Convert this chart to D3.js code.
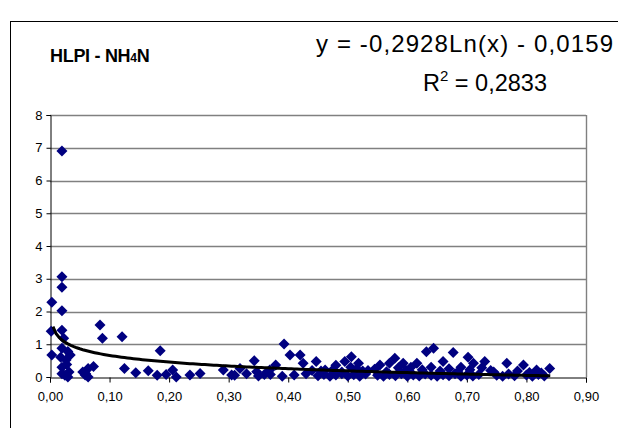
<!DOCTYPE html>
<html><head><meta charset="utf-8">
<script src="https://cdn.jsdelivr.net/npm/d3@7"></script>
<style>body{margin:0;background:#fff}svg{display:block}</style>
</head><body><svg id="c" width="618" height="428"></svg>
<script>
const titleMain = "HLPI - NH";
const titleSub = "4";
const titleEnd = "N";
const eqText = "y = -0,2928Ln(x) - 0,0159";
const r2Label = "R";
const r2Value = " = 0,2833";
const trendA = -0.2928, trendB = -0.0159;
const xTicks = [0,0.1,0.2,0.3,0.4,0.5,0.6,0.7,0.8,0.9];
const yTicks = [0,1,2,3,4,5,6,7,8];
const xVals = [0.003,0.002,0.003,0.020,0.020,0.020,0.020,0.020,0.023,0.020,0.034,0.027,0.020,0.020,0.030,0.025,0.032,0.028,0.030,0.018,0.059,0.064,0.064,0.073,0.055,0.060,
0.084,0.088,0.121,0.125,0.144,0.165,0.185,0.180,0.195,0.206,0.212,0.235,0.252,
0.291,0.305,0.319,0.343,0.347,0.360,0.369,0.379,0.393,0.403,0.420,0.425,0.447,0.440,0.462,0.480,0.495,0.506,0.518,0.534,0.554,0.570,0.579,0.593,0.606,0.616,0.632,0.644,0.660,0.677,0.690,0.702,0.711,0.730,0.740,0.767,0.795,0.817,0.839,
0.310,0.330,0.350,0.370,0.390,0.410,0.430,0.450,0.460,0.470,0.480,0.490,0.500,0.510,0.520,0.530,0.550,0.560,0.570,0.580,0.590,0.600,0.610,0.620,0.630,0.640,0.650,0.660,0.670,0.680,0.690,0.700,0.710,0.720,0.750,0.760,0.770,0.780,0.800,0.810,0.820,0.830,
0.455,0.475,0.490,0.505,0.515,0.525,0.545,0.565,0.585,0.598,0.625,0.640,0.655,0.670,0.685,0.705,0.725,0.745,0.785,0.805,0.825];
const yVals = [2.28,1.40,0.67,6.90,3.06,2.74,2.02,1.43,1.18,0.88,0.67,0.52,0.30,0.10,0.00,0.05,0.15,0.38,0.78,0.60,0.06,0.00,0.26,0.32,0.15,0.10,
1.59,1.18,1.23,0.26,0.13,0.19,0.80,0.05,0.08,0.21,0.00,0.06,0.11,
0.21,0.06,0.26,0.50,0.16,0.08,0.21,0.37,1.01,0.67,0.67,0.42,0.47,0.20,0.21,0.36,0.47,0.62,0.42,0.20,0.37,0.42,0.57,0.42,0.30,0.42,0.77,0.88,0.47,0.75,0.30,0.60,0.42,0.47,0.20,0.42,0.37,0.21,0.26,
0.05,0.10,0.03,0.08,0.02,0.06,0.10,0.04,0.08,0.02,0.06,0.10,0.03,0.07,0.02,0.09,0.05,0.02,0.08,0.04,0.10,0.02,0.06,0.03,0.09,0.05,0.02,0.07,0.04,0.10,0.02,0.06,0.03,0.08,0.05,0.02,0.09,0.04,0.06,0.02,0.08,0.03,
0.18,0.22,0.15,0.30,0.25,0.18,0.24,0.16,0.28,0.20,0.22,0.30,0.18,0.25,0.15,0.22,0.28,0.15,0.18,0.14,0.12];

const svg = d3.select("#c");
const L = 50, R = 586, T = 115, B = 377;
const FONT = "Liberation Sans, Arial, sans-serif";
const x = d3.scaleLinear().domain([0,0.9]).range([L,R]);
const y = d3.scaleLinear().domain([0,8]).range([B,T]);

// outer frame
svg.append("rect").attr("x",10.5).attr("y",21.5).attr("width",640).attr("height",440)
  .attr("fill","none").attr("stroke","#000").attr("stroke-width",1);

// gridlines
svg.append("g").selectAll("line").data(yTicks.filter(d=>d>0)).join("line")
  .attr("x1",L).attr("x2",R).attr("y1",d=>Math.round(y(d))+0.5).attr("y2",d=>Math.round(y(d))+0.5)
  .attr("stroke","#808080").attr("stroke-width",1.4);
svg.append("line").attr("x1",R+0.5).attr("x2",R+0.5).attr("y1",T).attr("y2",B)
  .attr("stroke","#808080").attr("stroke-width",1.4);

// axes
const yAxis = d3.axisLeft(y).tickValues(yTicks).tickSize(4).tickPadding(4).tickFormat(d3.format("d"));
const gy = svg.append("g").attr("transform",`translate(${L+0.5},0)`).call(yAxis);
const xAxis = d3.axisBottom(x).tickValues(xTicks).tickSize(5).tickPadding(9).tickFormat(d=>d3.format(".2f")(d).replace(".",","));
const gx = svg.append("g").attr("transform",`translate(0,${B+0.5})`).call(xAxis);
[gx,gy].forEach(g=>{
  g.select(".domain").attr("stroke","#000").attr("stroke-width",1);
  g.selectAll(".tick line").attr("stroke","#000");
  g.selectAll("text").attr("font-family",FONT).attr("font-size",13).attr("fill","#000");
});

// points
const pts = xVals.map((v,i)=>({x:v,y:yVals[i]}));
svg.append("g").selectAll("path").data(pts).join("path")
  .attr("transform",d=>`translate(${x(d.x)},${y(d.y)})`)
  .attr("d","M0,-5.5L5.5,0L0,5.5L-5.5,0Z")
  .attr("fill","#000080");

// trendline from displayed equation
const xs = d3.range(0.005,0.8401,0.005);
const line = d3.line().x(d=>x(d)).y(d=>y(trendA*Math.log(d)+trendB));
svg.append("path").datum(xs).attr("d",line).attr("fill","none").attr("stroke","#000").attr("stroke-width",3);

// title
const tt = svg.append("text").attr("x",50).attr("y",62)
  .attr("font-family",FONT).attr("font-weight","bold").attr("font-size",18).attr("letter-spacing",-0.3);
tt.append("tspan").text(titleMain);
tt.append("tspan").attr("font-size",12).text(titleSub);
tt.append("tspan").text(titleEnd);

// equation
svg.append("text").attr("x",316).attr("y",52)
  .attr("font-family",FONT).attr("font-size",24)
  .attr("textLength",297).attr("lengthAdjust","spacing").text(eqText);
const r2 = svg.append("text").attr("x",485).attr("y",91).attr("text-anchor","middle")
  .attr("font-family",FONT).attr("font-size",23.5);
r2.append("tspan").text(r2Label);
r2.append("tspan").attr("font-size",15).attr("dy",-10).text("2");
r2.append("tspan").attr("dy",10).text(r2Value);
</script></body></html>
